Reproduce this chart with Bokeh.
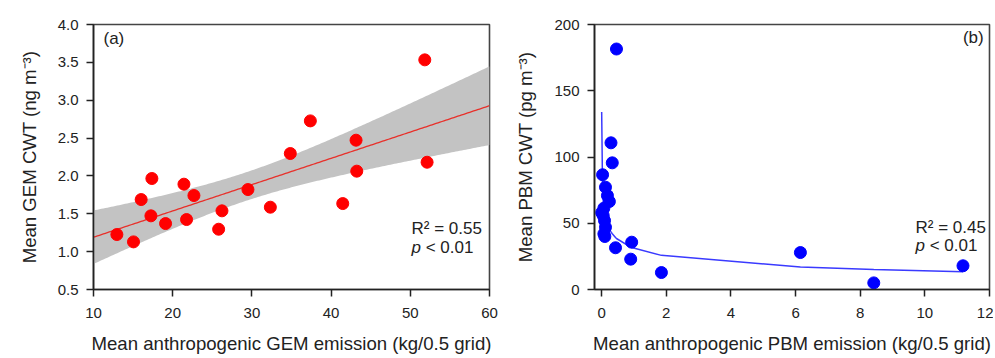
import numpy as np
from bokeh.plotting import figure
from bokeh.layouts import row
from bokeh.models import Range1d, FixedTicker, NumeralTickFormatter, Label
from bokeh.embed import file_html
from bokeh.resources import INLINE

# ---------------- data ----------------
gem_emission = [12.95, 15.05, 16.02, 17.25, 17.37, 19.10, 21.42, 21.75, 22.68, 25.80,
                 26.22, 29.50, 32.33, 34.85, 37.38, 41.47, 43.15, 43.24, 51.83, 52.12]
gem_cwt = [1.226, 1.129, 1.688, 1.473, 1.966, 1.371, 1.891, 1.424, 1.741, 1.296,
           1.539, 1.820, 1.587, 2.296, 2.727, 1.635, 2.472, 2.063, 3.533, 2.181]

pbm_emission = [0.002, 0.03, 0.12, 0.18, 0.24, 0.07, 0.05, 0.09, 0.12, 0.07, 0.10,
                0.29, 0.33, 0.46, 0.43, 0.93, 0.90, 1.85, 6.15, 8.42, 11.18]
pbm_cwt = [58.0, 86.6, 77.2, 70.9, 66.4, 61.4, 55.8, 52.0, 47.0, 42.0, 40.0,
           110.7, 95.6, 181.5, 31.5, 35.7, 22.9, 12.8, 27.9, 5.0, 17.9]

gem_xticks = [10, 20, 30, 40, 50, 60]
gem_yticks = [0.5, 1.0, 1.5, 2.0, 2.5, 3.0, 3.5, 4.0]
pbm_xticks = [0, 2, 4, 6, 8, 10, 12]
pbm_yticks = [0, 50, 100, 150, 200]

gem_r2_text = "R\u00b2 = 0.55"
pbm_r2_text = "R\u00b2 = 0.45"
p_letter = "p"
p_rest = "\u00a0< 0.01"

# power-law fit parameters (y = y0 + a * x^b)
pbm_fit_y0, pbm_fit_a, pbm_fit_b = -19.0, 50.0, -0.18
t_crit = 2.101  # 95 %, df = 18

FONT = "Liberation Sans"
TXT = "#222222"


def style(p):
    p.outline_line_color = "#444444"
    p.outline_line_width = 1.6
    p.grid.visible = False
    p.background_fill_color = "white"
    p.border_fill_color = "white"
    for ax in (p.xaxis, p.yaxis):
        ax.major_tick_out = 7
        ax.major_tick_in = 0
        ax.minor_tick_line_color = None
        ax.axis_line_width = 1.6
        ax.axis_line_color = TXT
        ax.major_tick_line_color = TXT
        ax.major_tick_line_width = 1.5
        ax.major_label_text_font = FONT
        ax.major_label_text_font_size = "15px"
        ax.major_label_text_color = TXT
        ax.axis_label_text_font = FONT
        ax.axis_label_text_font_size = "18.6px"
        ax.axis_label_text_font_style = "normal"
        ax.axis_label_text_color = TXT
    p.xaxis.major_label_standoff = 11
    p.xaxis.axis_label_standoff = 12
    p.yaxis.major_label_standoff = 8
    p.yaxis.axis_label_standoff = 15


def add_text(p, x, y, text, style="normal", align="left", x_offset=0):
    p.add_layout(Label(x=x, y=y, text=text, x_offset=x_offset,
                       text_font=FONT, text_font_size="17px", text_color=TXT,
                       text_font_style=style, text_align=align,
                       text_baseline="middle"))


# ---------------- panel (a) ----------------
p1 = figure(width=498, height=358, output_backend="svg", toolbar_location=None,
            x_range=Range1d(10, 60), y_range=Range1d(0.5, 4.0),
            min_border_left=93, min_border_right=9, min_border_top=24,
            min_border_bottom=69)
style(p1)
p1.xaxis.ticker = FixedTicker(ticks=gem_xticks)
p1.yaxis.ticker = FixedTicker(ticks=gem_yticks)
p1.yaxis.formatter = NumeralTickFormatter(format="0.0")
p1.xaxis.axis_label = "Mean anthropogenic GEM emission (kg/0.5 grid)"
p1.yaxis.axis_label = "Mean GEM CWT (ng m\u207b\u00b3)"

gx = np.array(gem_emission)
gy = np.array(gem_cwt)
slope, intercept = np.polyfit(gx, gy, 1)
n = len(gx)
resid = gy - (intercept + slope * gx)
s = np.sqrt(np.sum(resid ** 2) / (n - 2))
sxx = np.sum((gx - gx.mean()) ** 2)
xs = np.linspace(p1.x_range.start, p1.x_range.end, 201)
yhat = intercept + slope * xs
half = t_crit * s * np.sqrt(1.0 / n + (xs - gx.mean()) ** 2 / sxx)

p1.varea(x=xs, y1=yhat - half, y2=yhat + half, fill_color="#c3c3c3")
p1.line(xs, yhat, line_color="#e8302a", line_width=1.3)
p1.scatter(gx, gy, marker="circle", size=12, fill_color="#ff0000",
           line_color="#ff0000")

add_text(p1, 11.26, 3.82, "(a)")
add_text(p1, 50.15, 1.306, gem_r2_text)
add_text(p1, 50.15, 1.055, p_letter, style="italic")
add_text(p1, 50.15, 1.055, p_rest, x_offset=9.5)

# ---------------- panel (b) ----------------
p2 = figure(width=495, height=358, output_backend="svg", toolbar_location=None,
            x_range=Range1d(-0.22, 12), y_range=Range1d(0, 200),
            min_border_left=96, min_border_right=4, min_border_top=24,
            min_border_bottom=69)
style(p2)
p2.xaxis.ticker = FixedTicker(ticks=pbm_xticks)
p2.yaxis.ticker = FixedTicker(ticks=pbm_yticks)
p2.xaxis.axis_label = "Mean anthropogenic PBM emission (kg/0.5 grid)"
p2.yaxis.axis_label = "Mean PBM CWT (pg m\u207b\u00b3)"

px = np.array(pbm_emission)
py = np.array(pbm_cwt)
order = np.argsort(px)
fx = px[order]
fy = pbm_fit_y0 + pbm_fit_a * fx ** pbm_fit_b

p2.line(fx, fy, line_color="#3a3aff", line_width=1.5)
p2.scatter(px, py, marker="circle", size=12, fill_color="#0000ff",
           line_color="#0000ff")

add_text(p2, 11.82, 190, "(b)", align="right")
add_text(p2, 9.71, 46.8, pbm_r2_text)
add_text(p2, 9.71, 33.2, p_letter, style="italic")
add_text(p2, 9.71, 33.2, p_rest, x_offset=9.5)

layout = row(p1, p2)
open("out.html", "w").write(file_html(layout, INLINE))
